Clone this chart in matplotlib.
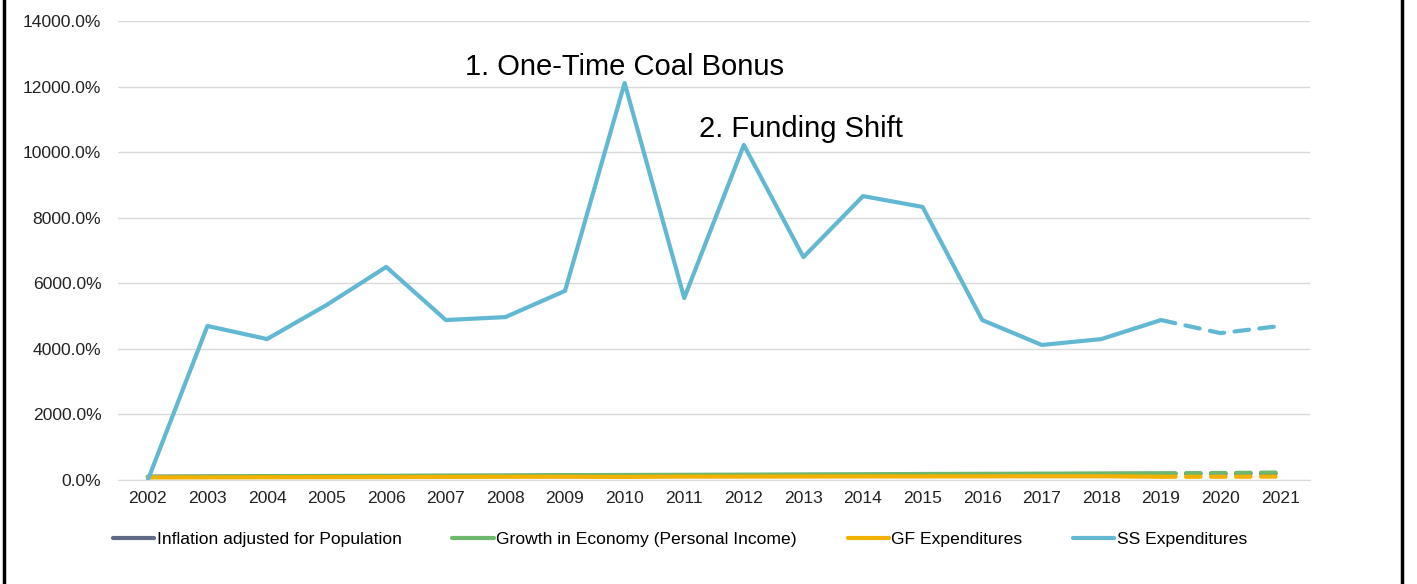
import numpy as np
import matplotlib.pyplot as plt
from matplotlib.lines import Line2D
from matplotlib.ticker import FuncFormatter

plt.rcParams['font.family'] = ['Liberation Sans', 'DejaVu Sans']

# data (percent growth since 2002)
years = [str(y) for y in range(2002, 2022)]
inflation_pop = [100, 105, 110, 115, 120, 125, 128, 135, 140, 145, 150, 155, 160, 168, 175, 180, 185, 190, 195, 200]
growth_economy = [100, 110, 120, 125, 130, 135, 140, 150, 155, 160, 165, 170, 175, 185, 190, 195, 200, 205, 215, 230]
gf_expend = [80, 82, 85, 88, 90, 95, 100, 100, 95, 105, 105, 108, 110, 110, 112, 115, 115, 100, 100, 105]
ss_expend = [0, 4700, 4300, 5340, 6500, 4880, 4970, 5770, 12110, 5550, 10220, 6800, 8660, 8330, 4880, 4120, 4300, 4880, 4480, 4700]

series = [
    ("Inflation adjusted for Population", inflation_pop, "#5f6b84"),
    ("Growth in Economy (Personal Income)", growth_economy, "#6db86b"),
    ("GF Expenditures", gf_expend, "#f2b000"),
    ("SS Expenditures", ss_expend, "#62b8d3"),
]
split = years.index("2019")

fig = plt.figure(figsize=(14.17, 5.84), dpi=100)
ax = fig.add_axes([0.0833, 0.178, 0.8412, 0.786])

x = np.arange(len(years))
for name, vals, col in series:
    ax.plot(x[:split + 1], vals[:split + 1], color=col, lw=3, label=name,
            solid_capstyle='round', solid_joinstyle='round')
    ax.plot(x[split:], vals[split:], color=col, lw=3, ls=(0, (3.5, 2.5)),
            dash_capstyle='round')

ax.set_xlim(-0.5, len(years) - 0.5)
ax.set_ylim(0, 14000)
ax.set_yticks(np.arange(0, 14001, 2000))
ax.yaxis.set_major_formatter(FuncFormatter(lambda v, p: f"{v:.1f}%"))
ax.set_xticks(x)
ax.set_xticklabels(years)
ax.tick_params(length=0, labelsize=12.6, colors="#222222")
ax.tick_params(axis='y', pad=12)
ax.tick_params(axis='x', pad=8)
ax.grid(axis='y', color="#d9d9d9", lw=1)
ax.set_axisbelow(True)
for s in ["top", "right", "left"]:
    ax.spines[s].set_visible(False)
ax.spines["bottom"].set_color("#d9d9d9")

ax.text(years.index("2010"), 12170, "1. One-Time Coal Bonus", ha="center", va="bottom", fontsize=21)
ax.text(years.index("2012") + 0.95, 10280, "2. Funding Shift", ha="center", va="bottom", fontsize=21)

fig.legend(loc="center", bbox_to_anchor=(0.48, 0.077), ncol=4, frameon=False,
           fontsize=12.6, handlelength=2.35, handletextpad=0.15, columnspacing=2.9)

fig.add_artist(Line2D([0.003, 0.003], [0, 1], color="black", lw=2.5, transform=fig.transFigure))
fig.add_artist(Line2D([0.9897, 0.9897], [0, 1], color="black", lw=2.5, transform=fig.transFigure))

fig.savefig("out.png", dpi=100, facecolor="white")
